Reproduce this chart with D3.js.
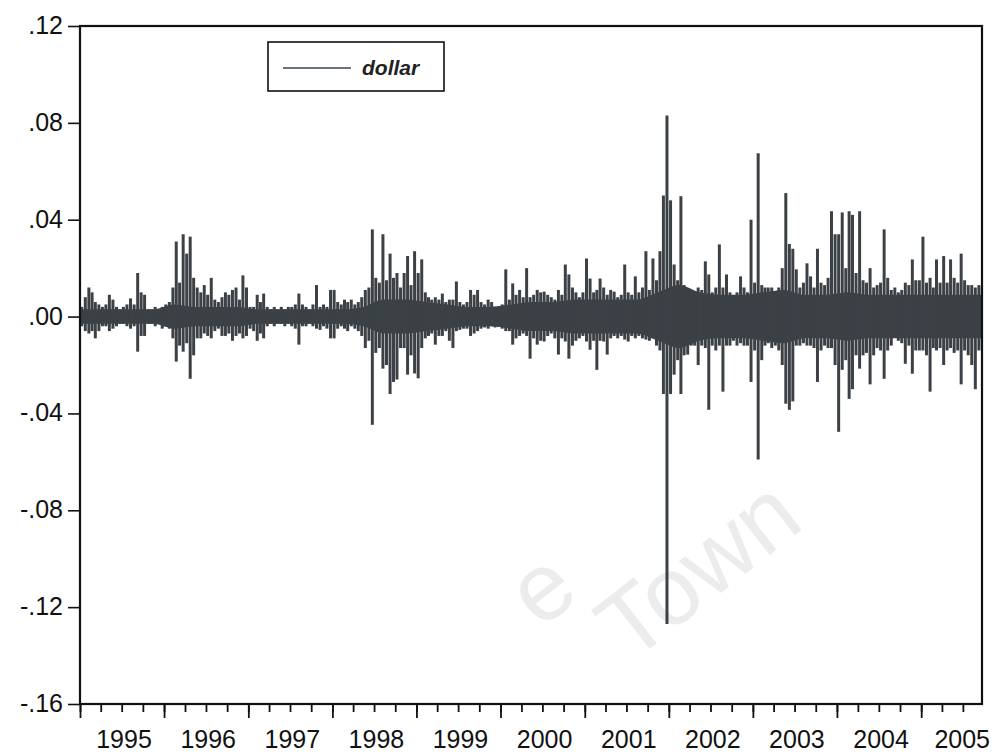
<!DOCTYPE html>
<html>
<head>
<meta charset="utf-8">
<script src="https://cdn.jsdelivr.net/npm/d3@7"></script>
<style>
   html, body { margin: 0; padding: 0; background: #ffffff; }
   svg { display: block; font-family: "Liberation Sans", Arial, sans-serif; }
   .y-label, .year-label { fill: #111; }
</style>
</head>
<body>
<svg id="chart" width="1002" height="755"></svg>
<script>
const years = [1995, 1996, 1997, 1998, 1999, 2000, 2001, 2002, 2003, 2004, 2005];

const hi1995 = [0.004, 0.008, 0.012, 0.010, 0.006, 0.005, 0.004, 0.005, 0.009, 0.007, 0.004, 0.003, 0.004, 0.005, 0.0075, 0.005, 0.018, 0.010, 0.009, 0.003, 0.003, 0.004, 0.003, 0.004];
const lo1995 = [-0.004, -0.006, -0.007, -0.006, -0.009, -0.006, -0.004, -0.004, -0.006, -0.005, -0.004, -0.003, -0.003, -0.004, -0.005, -0.004, -0.0145, -0.008, -0.008, -0.003, -0.003, -0.004, -0.003, -0.005];

const hi1996 = [0.005, 0.006, 0.012, 0.031, 0.014, 0.034, 0.026, 0.033, 0.016, 0.012, 0.010, 0.013, 0.009, 0.016, 0.007, 0.006, 0.008, 0.010, 0.009, 0.011, 0.012, 0.007, 0.017, 0.012];
const lo1996 = [-0.004, -0.005, -0.009, -0.0186, -0.012, -0.0145, -0.011, -0.0257, -0.016, -0.009, -0.009, -0.007, -0.008, -0.009, -0.006, -0.005, -0.008, -0.008, -0.007, -0.010, -0.008, -0.007, -0.009, -0.008];

const hi1997 = [0.004, 0.004, 0.009, 0.006, 0.0095, 0.004, 0.003, 0.004, 0.003, 0.004, 0.003, 0.004, 0.004, 0.005, 0.0095, 0.005, 0.004, 0.003, 0.005, 0.013, 0.004, 0.005, 0.004, 0.011];
const lo1997 = [-0.005, -0.006, -0.010, -0.007, -0.009, -0.004, -0.003, -0.004, -0.003, -0.003, -0.004, -0.003, -0.004, -0.005, -0.0116, -0.004, -0.004, -0.003, -0.004, -0.005, -0.0055, -0.004, -0.005, -0.009];

const hi1998 = [0.011, 0.006, 0.005, 0.007, 0.006, 0.007, 0.005, 0.006, 0.008, 0.011, 0.012, 0.036, 0.016, 0.014, 0.034, 0.015, 0.026, 0.016, 0.018, 0.012, 0.018, 0.025, 0.013, 0.027];
const lo1998 = [-0.009, -0.005, -0.004, -0.005, -0.006, -0.004, -0.005, -0.006, -0.008, -0.013, -0.010, -0.0447, -0.015, -0.013, -0.0215, -0.020, -0.032, -0.027, -0.026, -0.013, -0.013, -0.024, -0.016, -0.0235];

const hi1999 = [0.018, 0.0236, 0.010, 0.008, 0.007, 0.008, 0.007, 0.0095, 0.006, 0.007, 0.007, 0.0145, 0.006, 0.005, 0.006, 0.011, 0.009, 0.011, 0.006, 0.005, 0.007, 0.006, 0.004, 0.004];
const lo1999 = [-0.0255, -0.013, -0.009, -0.008, -0.007, -0.0116, -0.008, -0.008, -0.006, -0.010, -0.013, -0.006, -0.0055, -0.005, -0.005, -0.008, -0.007, -0.006, -0.005, -0.0045, -0.005, -0.004, -0.0045, -0.004];

const hi2000 = [0.005, 0.0195, 0.007, 0.0137, 0.009, 0.011, 0.008, 0.020, 0.008, 0.009, 0.011, 0.010, 0.0103, 0.009, 0.008, 0.007, 0.011, 0.009, 0.0215, 0.0174, 0.012, 0.010, 0.008, 0.010];
const lo2000 = [-0.005, -0.006, -0.006, -0.0116, -0.009, -0.008, -0.007, -0.008, -0.0174, -0.009, -0.0116, -0.010, -0.0103, -0.008, -0.007, -0.009, -0.0157, -0.009, -0.0103, -0.0174, -0.012, -0.010, -0.009, -0.008];

const hi2001 = [0.024, 0.0157, 0.010, 0.011, 0.0157, 0.012, 0.009, 0.011, 0.0103, 0.008, 0.009, 0.0215, 0.010, 0.009, 0.0166, 0.010, 0.012, 0.027, 0.011, 0.024, 0.015, 0.027, 0.050, 0.083];
const lo2001 = [-0.0103, -0.0137, -0.010, -0.022, -0.010, -0.0103, -0.0157, -0.009, -0.008, -0.009, -0.008, -0.0095, -0.0103, -0.008, -0.009, -0.008, -0.009, -0.0095, -0.010, -0.009, -0.012, -0.014, -0.032, -0.127];

const hi2002 = [0.048, 0.0215, 0.015, 0.0497, 0.013, 0.010, 0.011, 0.010, 0.012, 0.011, 0.0228, 0.0174, 0.010, 0.012, 0.0298, 0.012, 0.0174, 0.010, 0.008, 0.010, 0.0166, 0.012, 0.010, 0.040];
const lo2002 = [-0.032, -0.024, -0.018, -0.032, -0.016, -0.0157, -0.012, -0.012, -0.020, -0.012, -0.013, -0.0385, -0.012, -0.014, -0.012, -0.031, -0.012, -0.012, -0.010, -0.012, -0.011, -0.012, -0.012, -0.027];

const hi2003 = [0.014, 0.0675, 0.013, 0.012, 0.012, 0.012, 0.010, 0.012, 0.020, 0.051, 0.030, 0.028, 0.0195, 0.012, 0.014, 0.022, 0.0166, 0.012, 0.028, 0.014, 0.013, 0.016, 0.0435, 0.034];
const lo2003 = [-0.014, -0.059, -0.018, -0.012, -0.011, -0.013, -0.012, -0.014, -0.020, -0.036, -0.0385, -0.035, -0.012, -0.012, -0.011, -0.012, -0.012, -0.013, -0.027, -0.014, -0.012, -0.013, -0.013, -0.020];

const hi2004 = [0.034, 0.043, 0.020, 0.0435, 0.042, 0.018, 0.0435, 0.015, 0.014, 0.020, 0.012, 0.013, 0.014, 0.036, 0.016, 0.011, 0.012, 0.010, 0.011, 0.014, 0.013, 0.0236, 0.015, 0.015];
const lo2004 = [-0.0476, -0.022, -0.018, -0.034, -0.030, -0.016, -0.0215, -0.016, -0.015, -0.028, -0.016, -0.013, -0.014, -0.0257, -0.014, -0.012, -0.0083, -0.010, -0.011, -0.0195, -0.012, -0.0236, -0.014, -0.014];

const hi2005 = [0.033, 0.014, 0.016, 0.012, 0.0236, 0.014, 0.025, 0.014, 0.0236, 0.016, 0.014, 0.026, 0.015, 0.013, 0.013, 0.012, 0.013, 0.012];
const lo2005 = [-0.014, -0.016, -0.031, -0.013, -0.014, -0.013, -0.020, -0.014, -0.013, -0.015, -0.014, -0.028, -0.014, -0.016, -0.020, -0.030, -0.014, -0.012];

// Half-width of the solid body around zero, one value per quarter (1995Q1 .. 2005Q3)
const coreBand = [
   0.003, 0.003, 0.003, 0.003,
   0.005, 0.004, 0.004, 0.004,
   0.003, 0.003, 0.003, 0.003,
   0.003, 0.004, 0.007, 0.007,
   0.006, 0.005, 0.004, 0.004,
   0.005, 0.006, 0.006, 0.007,
   0.007, 0.007, 0.007, 0.010,
   0.013, 0.010, 0.009, 0.009,
   0.010, 0.011, 0.009, 0.009,
   0.010, 0.009, 0.009, 0.009,
   0.009, 0.009, 0.009
];

const yTicks = [0.12, 0.08, 0.04, 0, -0.04, -0.08, -0.12, -0.16];
const seriesName = "dollar";

const highs = [hi1995, hi1996, hi1997, hi1998, hi1999, hi2000, hi2001, hi2002, hi2003, hi2004, hi2005];
const lows = [lo1995, lo1996, lo1997, lo1998, lo1999, lo2000, lo2001, lo2002, lo2003, lo2004, lo2005];

const svg = d3.select("#chart");
const plot = { left: 80, right: 982, top: 26, bottom: 704 };
const ink = "#3c4146";

const x = d3.scaleTime()
   .domain([new Date(1995, 0, 1), new Date(2005, 8, 22)])
   .range([plot.left, plot.right]);

const y = d3.scaleLinear()
   .domain([-0.16, 0.12])
   .range([plot.bottom, plot.top]);

// Build half-month bins
const halfStart = (yr, h) => new Date(yr, Math.floor(h / 2), h % 2 ? 16 : 1);
const bins = [];
years.forEach((yr, i) => {
   highs[i].forEach((hv, h) => {
      const t0 = halfStart(yr, h);
      const t1 = h === 23 ? new Date(yr + 1, 0, 1) : halfStart(yr, h + 1);
      bins.push({ t0, t1, hi: hv, lo: lows[i][h] });
   });
});

const quarters = coreBand.map((c, i) => ({
   t: new Date(1995 + Math.floor(i / 4), (i % 4) * 3 + 1, 15),
   c,
}));
quarters[0].t = x.domain()[0];
quarters[quarters.length - 1].t = x.domain()[1];

// faint scan watermark
const wm = svg.append("g")
   .style("font-size", "96px")
   .style("fill", "#ececec");
wm.append("text")
   .attr("transform", "translate(540,630) rotate(-38)")
   .text("e");
wm.append("text")
   .attr("transform", "translate(630,664) rotate(-38)")
   .text("Town");

const g = svg.append("g");

// clip to plot
svg.append("defs").append("clipPath").attr("id", "plotClip")
   .append("rect")
   .attr("x", plot.left).attr("y", plot.top)
   .attr("width", plot.right - plot.left).attr("height", plot.bottom - plot.top);

const series = g.append("g").attr("clip-path", "url(#plotClip)");

// solid body near zero
series.append("path")
   .datum(quarters)
   .attr("fill", ink)
   .attr("d", d3.area()
      .curve(d3.curveMonotoneX)
      .x((d) => x(d.t))
      .y0((d) => y(-d.c))
      .y1((d) => y(d.c)));

// spikes
series.selectAll(".spike")
   .data(bins)
   .enter()
   .append("line")
   .attr("class", "spike")
   .attr("x1", (d) => (x(d.t0) + x(d.t1)) / 2)
   .attr("x2", (d) => (x(d.t0) + x(d.t1)) / 2)
   .attr("y1", (d) => y(d.hi))
   .attr("y2", (d) => y(d.lo))
   .attr("stroke", ink)
   .attr("stroke-width", 3);

// Y axis
const yAxis = g.append("g")
   .attr("transform", `translate(${plot.left},0)`)
   .call(d3.axisLeft(y).tickValues(yTicks).tickSize(12).tickPadding(5)
      .tickFormat((d) => (d < 0 ? "-" : "") + d3.format(".2f")(Math.abs(d)).replace(/^0/, "")));
yAxis.select(".domain").remove();
yAxis.selectAll("line").attr("stroke", "#111").attr("stroke-width", 1.6);
yAxis.selectAll("text")
   .attr("class", "y-label")
   .attr("dy", "0.3em")
   .style("font-size", "25px")
   .style("font-family", "\"Liberation Sans\", Arial, sans-serif");

// X axis: quarterly minor ticks, yearly major ticks
const xMinor = g.append("g")
   .attr("transform", `translate(0,${plot.bottom})`)
   .call(d3.axisBottom(x).ticks(d3.timeMonth.every(3)).tickSize(8).tickFormat(""));
xMinor.select(".domain").remove();
xMinor.selectAll("line").attr("stroke", "#111").attr("stroke-width", 1.8);

const xMajor = g.append("g")
   .attr("transform", `translate(0,${plot.bottom})`)
   .call(d3.axisBottom(x).ticks(d3.timeYear.every(1)).tickSize(14).tickFormat(""));
xMajor.select(".domain").remove();
xMajor.selectAll("line").attr("stroke", "#111").attr("stroke-width", 1.8);

// year labels centred in each year
g.selectAll(".year-label")
   .data(years)
   .enter()
   .append("text")
   .attr("class", "year-label")
   .attr("x", (d) => {
      const a = x(new Date(d, 0, 1));
      const b = x(new Date(d + 1, 0, 1));
      return d === 2005 ? a + 41 : (a + b) / 2 + 2;
   })
   .attr("y", 748)
   .attr("text-anchor", "middle")
   .style("font-size", "25px")
   .text((d) => d);

// frame
g.append("rect")
   .attr("x", plot.left).attr("y", plot.top)
   .attr("width", plot.right - plot.left).attr("height", plot.bottom - plot.top)
   .attr("fill", "none")
   .attr("stroke", "#111")
   .attr("stroke-width", 2.2);

// legend
const legend = g.append("g").attr("transform", "translate(268,42)");
legend.append("rect")
   .attr("width", 176).attr("height", 49)
   .attr("fill", "#ffffff")
   .attr("stroke", "#111")
   .attr("stroke-width", 1.6);
legend.append("line")
   .attr("x1", 15).attr("x2", 83)
   .attr("y1", 26).attr("y2", 26)
   .attr("stroke", "#6b747d")
   .attr("stroke-width", 2);
legend.append("text")
   .attr("x", 94).attr("y", 33)
   .style("font-size", "21px")
   .style("font-style", "italic")
   .style("font-weight", "bold")
   .style("fill", "#222")
   .text(seriesName);
</script>
</body>
</html>
